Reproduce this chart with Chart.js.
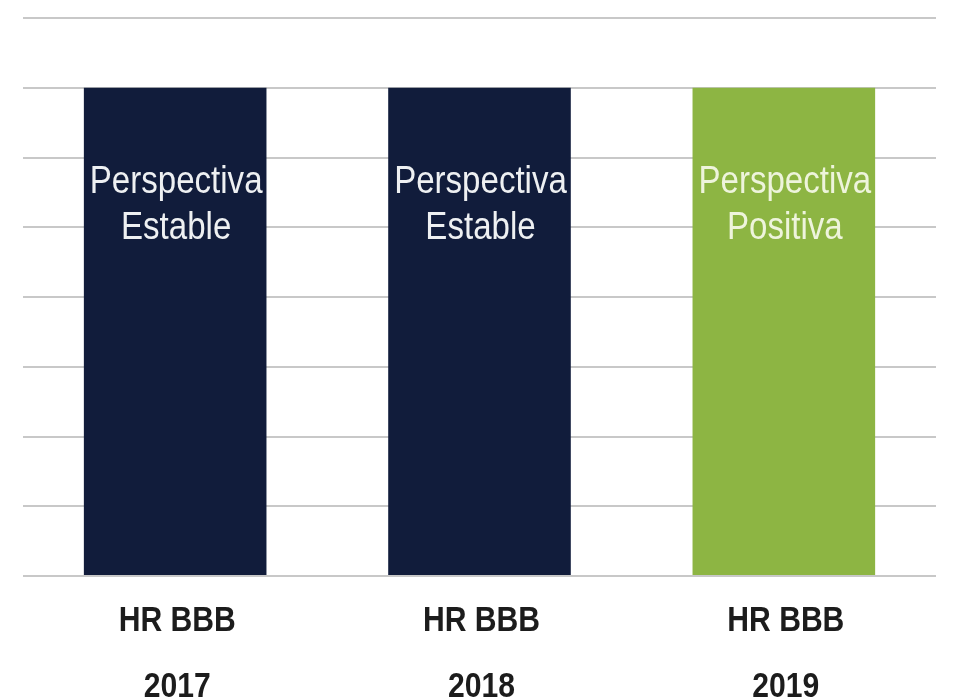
<!DOCTYPE html>
<html>
<head>
<meta charset="utf-8">
<script src="https://cdn.jsdelivr.net/npm/chart.js@4"></script>
<style>
  html, body { margin: 0; padding: 0; background: #ffffff; }
  #wrap { width: 956px; height: 700px; }
</style>
</head>
<body>
<div id="wrap"><canvas id="c" width="956" height="700"></canvas></div>
<script>
const ratings = ['HR BBB', 'HR BBB', 'HR BBB'];
const years = ['2017', '2018', '2019'];
const values = [7, 7, 7];
const outlooks = [['Perspectiva', 'Estable'], ['Perspectiva', 'Estable'], ['Perspectiva', 'Positiva']];
const barColors = ['#111c3b', '#111c3b', '#8db543'];
const yMin = 0, yMax = 8, yStep = 1;

const FONT = "'Liberation Sans', Arial, sans-serif";

function narrowText(ctx, text, x, y, sx) {
  ctx.save();
  ctx.translate(x, y);
  ctx.scale(sx, 1);
  ctx.fillText(text, 0, 0);
  ctx.restore();
}

const customLabels = {
  id: 'customLabels',
  afterDatasetsDraw(chart) {
    const ctx = chart.ctx;
    const meta = chart.getDatasetMeta(0);
    ctx.save();
    ctx.textAlign = 'center';
    ctx.textBaseline = 'middle';
    // labels inside the bars
    ctx.font = '38px ' + FONT;
    meta.data.forEach((bar, i) => {
      ctx.fillStyle = i === 2 ? '#eef4dc' : '#eef0f2';
      outlooks[i].forEach((line, j) => {
        narrowText(ctx, line, bar.x + 1, bar.y + 95 + j * 46, 0.87);
      });
    });
    // category labels under the axis
    const xs = chart.scales.x;
    const base = chart.chartArea.bottom;
    ctx.font = 'bold 35px ' + FONT;
    ctx.fillStyle = '#1c1c1c';
    chart.data.labels.forEach((lab, i) => {
      const x = xs.getPixelForValue(i);
      lab.forEach((line, j) => {
        narrowText(ctx, line, x + 2, base + 45 + j * 66, 0.86);
      });
    });
    ctx.restore();
  }
};

new Chart(document.getElementById('c'), {
  type: 'bar',
  data: {
    labels: ratings.map((r, i) => [r, years[i]]),
    datasets: [{
      data: values,
      backgroundColor: barColors,
      borderWidth: 0,
      barPercentage: 0.6,
      categoryPercentage: 1.0
    }]
  },
  options: {
    responsive: false,
    animation: false,
    devicePixelRatio: 1,
    layout: { padding: { left: 23, right: 20, top: 18, bottom: 0 } },
    plugins: { legend: { display: false }, tooltip: { enabled: false } },
    scales: {
      x: {
        grid: { display: false },
        border: { display: false },
        ticks: { display: false },
        afterFit(scale) { scale.height = 124; }
      },
      y: {
        min: yMin, max: yMax,
        ticks: { display: false, stepSize: yStep },
        grid: { color: '#c8c8c8', lineWidth: 2, drawTicks: false },
        border: { display: false },
        afterFit(scale) { scale.width = 0; }
      }
    }
  },
  plugins: [customLabels]
});
</script>
</body>
</html>
